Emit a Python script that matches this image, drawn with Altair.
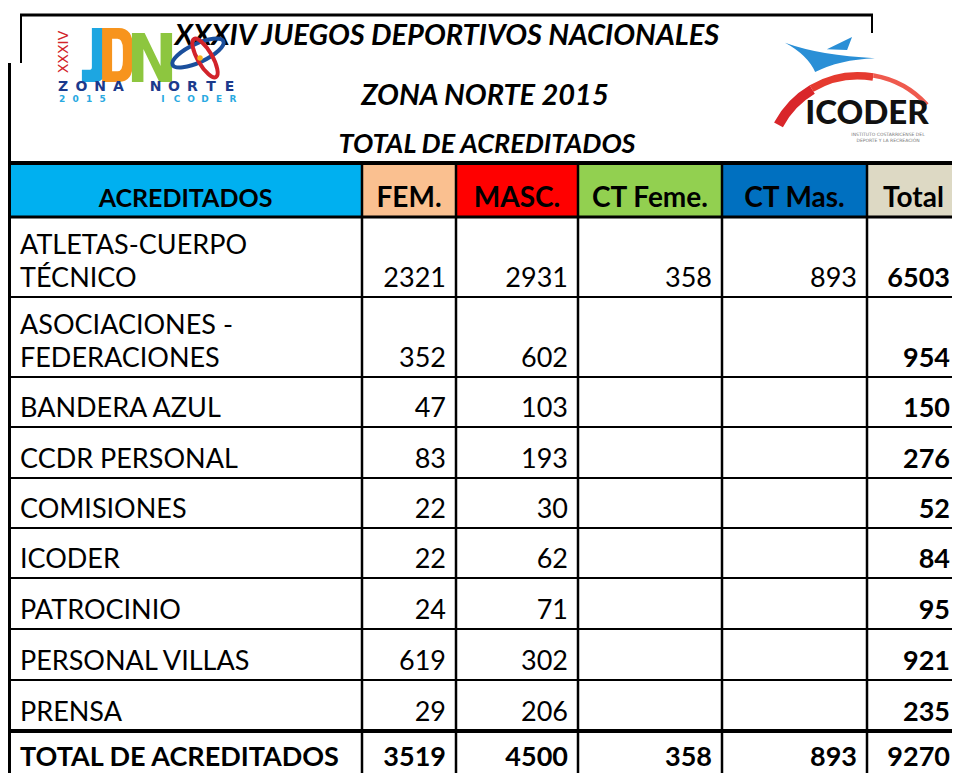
import altair as alt
import pandas as pd

# ---------------- data ----------------
categories = [["ATLETAS-CUERPO", "TÉCNICO"], ["ASOCIACIONES -", "FEDERACIONES"],
              ["BANDERA AZUL"], ["CCDR PERSONAL"], ["COMISIONES"], ["ICODER"],
              ["PATROCINIO"], ["PERSONAL VILLAS"], ["PRENSA"]]
fem = [2321, 352, 47, 83, 22, 22, 24, 619, 29]
masc = [2931, 602, 103, 193, 30, 62, 71, 302, 206]
ct_fem = [358, None, None, None, None, None, None, None, None]
ct_mas = [893, None, None, None, None, None, None, None, None]
total = [6503, 954, 150, 276, 52, 84, 95, 921, 235]
totals_label = "TOTAL DE ACREDITADOS"
totals_row = [3519, 4500, 358, 893, 9270]
headers = ["ACREDITADOS", "FEM.", "MASC.", "CT Feme.", "CT Mas.", "Total"]
header_colors = ["#00B0F0", "#FAC090", "#FF0000", "#92D050", "#0070C0", "#DDD9C4"]
titles = ["XXXIV JUEGOS DEPORTIVOS  NACIONALES", "ZONA NORTE 2015", "TOTAL DE ACREDITADOS"]

# ---------------- layout ----------------
W, H = 944, 765
X0, Y0 = 8, 8
FONT = "Lato"
xs = alt.Scale(domain=[X0, X0 + W], nice=False, zero=False)
ys = alt.Scale(domain=[Y0, Y0 + H], nice=False, zero=False, reverse=True)


def ex(f):
    return alt.X(f"{f}:Q", scale=xs, axis=None)


def ey(f):
    return alt.Y(f"{f}:Q", scale=ys, axis=None)


col_edges = [9, 362, 456, 578, 722, 867, 960]
row_edges = [217, 297, 377, 427, 478, 528, 578, 629, 680, 731, 781]
HEAD_TOP, HEAD_BOT = 163, 217
PAD_R = 10
BASE_OFF = 10
LINE_GAP = 33
TOTAL_BASE = 766
BODY_SIZE = 27

layers = []

# header cells
hdr = pd.DataFrame({
    "x": col_edges[:-1], "x2": col_edges[1:],
    "y": [HEAD_TOP] * 6, "y2": [HEAD_BOT] * 6,
    "c": header_colors, "t": headers,
    "s": [25, 28, 28, 28, 28, 28],
})
hdr["xc"] = (hdr["x"] + hdr["x2"]) / 2
hdr["yb"] = 207
layers.append(alt.Chart(hdr).mark_rect().encode(
    x=ex("x"), x2="x2", y=ey("y"), y2="y2", color=alt.Color("c:N", scale=None)))
layers.append(alt.Chart(hdr).mark_text(font=FONT, fontWeight="bold", baseline="alphabetic",
                                       align="center", color="black").encode(
    x=ex("xc"), y=ey("yb"), text="t:N", size=alt.Size("s:Q", scale=None)))

# grid lines
lines = []
for yv, w in zip([HEAD_TOP, HEAD_BOT] + row_edges[1:-1],
                 [4, 3, 2, 2, 2, 2, 2, 2, 2, 2, 4]):
    lines.append(dict(x=8, x2=960, y=yv, y2=yv, w=w))
for xv in col_edges[1:-1]:
    lines.append(dict(x=xv, x2=xv, y=HEAD_TOP, y2=781, w=2.5))
lines.append(dict(x=9.5, x2=9.5, y=63, y2=781, w=3))
lines.append(dict(x=21, x2=21, y=14, y2=63, w=2))
lines.append(dict(x=872, x2=872, y=14, y2=33, w=2))
lines.append(dict(x=20, x2=873, y=15, y2=15, w=3))
ldf = pd.DataFrame(lines)
layers.append(alt.Chart(ldf).mark_rule(color="black").encode(
    x=ex("x"), x2="x2", y=ey("y"), y2="y2", strokeWidth=alt.StrokeWidth("w:Q", scale=None)))

# titles
tdf = pd.DataFrame({"t": titles, "x": [447, 485, 487], "y": [45, 105, 153], "s": [29, 29, 27]})
layers.append(alt.Chart(tdf).mark_text(font=FONT, fontWeight="bold", fontStyle="italic",
                                       baseline="alphabetic", align="center", color="black").encode(
    x=ex("x"), y=ey("y"), text="t:N", size=alt.Size("s:Q", scale=None)))

# row labels
lab = []
for i, lns in enumerate(categories):
    bottom = row_edges[i + 1]
    n = len(lns)
    for k, ln in enumerate(lns):
        lab.append(dict(t=ln, x=20, y=bottom - BASE_OFF - (n - 1 - k) * LINE_GAP))
labdf = pd.DataFrame(lab)
layers.append(alt.Chart(labdf).mark_text(font=FONT, fontSize=BODY_SIZE, baseline="alphabetic",
                                         align="left", color="black").encode(
    x=ex("x"), y=ey("y"), text="t:N"))

# numbers
reg, bold = [], []
for j, col in enumerate([fem, masc, ct_fem, ct_mas, total]):
    for i, v in enumerate(col):
        if v is None:
            continue
        rec = dict(t=str(v), x=col_edges[j + 2] - PAD_R, y=row_edges[i + 1] - BASE_OFF)
        (bold if j == 4 else reg).append(rec)
for j, v in enumerate(totals_row):
    bold.append(dict(t=str(v), x=col_edges[j + 2] - PAD_R, y=TOTAL_BASE))
bold.append(dict(t=totals_label, x=20, y=TOTAL_BASE))
regdf = pd.DataFrame(reg)
bolddf = pd.DataFrame(bold)
bolddf["a"] = ["right"] * (len(bolddf) - 1) + ["left"]
layers.append(alt.Chart(regdf).mark_text(font=FONT, fontSize=BODY_SIZE, baseline="alphabetic",
                                         align="right", color="black").encode(
    x=ex("x"), y=ey("y"), text="t:N"))
layers.append(alt.Chart(bolddf[bolddf.a == "right"]).mark_text(
    font=FONT, fontSize=BODY_SIZE, fontWeight="bold", baseline="alphabetic", align="right",
    color="black").encode(x=ex("x"), y=ey("y"), text="t:N"))
layers.append(alt.Chart(bolddf[bolddf.a == "left"]).mark_text(
    font=FONT, fontSize=BODY_SIZE, fontWeight="bold", baseline="alphabetic", align="left",
    color="black").encode(x=ex("x"), y=ey("y"), text="t:N"))

# ---------------- JDN logo ----------------
J_PATH = "M-0.06,-1 L0.43,-1 L0.43,0.6 Q0.43,1 0,1 L-0.43,1 L-0.43,0.55 L-0.12,0.55 Q-0.06,0.55 -0.06,0.45 Z"
D_PATH = ("M-0.57,-1 L0.05,-1 Q0.57,-1 0.57,-0.3 L0.57,0.3 Q0.57,1 0.05,1 L-0.57,1 Z "
          "M-0.2,-0.6 L-0.2,0.6 L0.0,0.6 Q0.2,0.6 0.2,0.2 L0.2,-0.2 Q0.2,-0.6 0,-0.6 Z")
N_PATH = "M-0.82,1 L-0.82,-1 L-0.3,-1 L0.35,0.35 L0.35,-1 L0.82,-1 L0.82,1 L0.3,1 L-0.35,-0.35 L-0.35,1 Z"
ELL_PATH = "M-1,0 A1,0.33 0 1,1 1,0 A1,0.33 0 1,1 -1,0 Z"


def shape_layer(x, y, path, size, color, filled=True, angle=0, sw=1):
    d = pd.DataFrame({"x": [x], "y": [y]})
    kw = dict(shape=path, size=size, opacity=1, angle=angle)
    if filled:
        m = alt.Chart(d).mark_point(filled=True, color=color, strokeWidth=0, **kw)
    else:
        m = alt.Chart(d).mark_point(filled=False, color=color, strokeWidth=sw, **kw)
    return m.encode(x=ex("x"), y=ey("y"))


layers.append(shape_layer(93.5, 55, J_PATH, 54 * 54, "#1DA6E1"))
layers.append(shape_layer(117.5, 55, D_PATH, 54 * 54, "#F7941D"))
layers.append(shape_layer(152, 57.5, N_PATH, 49 * 49, "#8DC63F"))
layers.append(shape_layer(198, 53, ELL_PATH, 56 * 56, "#1B4F9C", filled=False, angle=335, sw=4))
layers.append(shape_layer(205, 58, ELL_PATH, 44 * 44, "#D2232A", filled=False, angle=60, sw=4))
layers.append(shape_layer(200, 58, "circle", 30, "#F7B21D"))

xxxiv = pd.DataFrame({"t": ["XXXIV"], "x": [64], "y": [52]})
layers.append(alt.Chart(xxxiv).mark_text(font="DejaVu Sans", fontSize=14, angle=270,
                                         align="center", baseline="middle", color="#D2232A").encode(
    x=ex("x"), y=ey("y"), text="t:N"))

zona = "ZONA NORTE"
zrecs = []
for i, ch in enumerate(zona):
    if ch != " ":
        zrecs.append(dict(t=ch, x=63 + 18.5 * i))
zdf = pd.DataFrame(zrecs)
zdf["y"] = 91
layers.append(alt.Chart(zdf).mark_text(font="DejaVu Sans", fontWeight="bold", fontSize=14,
                                       align="center", baseline="alphabetic", color="#1B3A8C").encode(
    x=ex("x"), y=ey("y"), text="t:N"))

sub = []
for i, ch in enumerate("2015"):
    sub.append(dict(t=ch, x=62 + 13.5 * i))
for i, ch in enumerate("ICODER"):
    sub.append(dict(t=ch, x=163 + 14 * i))
sdf = pd.DataFrame(sub)
sdf["y"] = 102
layers.append(alt.Chart(sdf).mark_text(font="DejaVu Sans", fontWeight="bold", fontSize=9,
                                       align="center", baseline="alphabetic", color="#29A9E1").encode(
    x=ex("x"), y=ey("y"), text="t:N"))

# ---------------- ICODER logo ----------------
SWOOSH = ("M-1,-0.27 Q-0.2,0.02 1,0.07 Q0.2,0.1 -0.33,0.38 Q-0.5,0.0 -1,-0.27 Z "
          "M-0.07,-0.13 L0.49,-0.4 L0.38,-0.11 Z")
layers.append(shape_layer(830, 55, SWOOSH, 90 * 90, "#2A8FD6"))

arc_c = pd.DataFrame({"x": [858], "y": [167]})
for th1, th2, r2, col in [(5.20, 5.75, 85, "#D9262A"), (5.75, 6.45, 87.5, "#E53A2F"),
                          (6.45, 7.12, 90.5, "#EF5A4E")]:
    layers.append(alt.Chart(arc_c).mark_arc(theta=th1, theta2=th2, radius=95, radius2=r2,
                                            color=col).encode(x=ex("x"), y=ey("y")))

ic = pd.DataFrame({"t": ["ICODER"], "x": [867], "y": [124]})
layers.append(alt.Chart(ic).mark_text(font=FONT, fontWeight=900, fontSize=33, align="center",
                                      baseline="alphabetic", color="#111111").encode(
    x=ex("x"), y=ey("y"), text="t:N"))
small = pd.DataFrame({"t": ["INSTITUTO COSTARRICENSE DEL", "DEPORTE Y LA RECREACIÓN"],
                      "x": [888, 888], "y": [136, 142]})
layers.append(alt.Chart(small).mark_text(font="DejaVu Sans", fontSize=4.5, align="center",
                                         baseline="alphabetic", color="#777777").encode(
    x=ex("x"), y=ey("y"), text="t:N"))

chart = alt.layer(*layers).properties(
    width=W, height=H, padding=0, background="white",
    autosize=alt.AutoSizeParams(type="none"),
).configure_view(strokeWidth=0)

chart.save("out.html", embed_options={"renderer": "svg", "actions": False})
